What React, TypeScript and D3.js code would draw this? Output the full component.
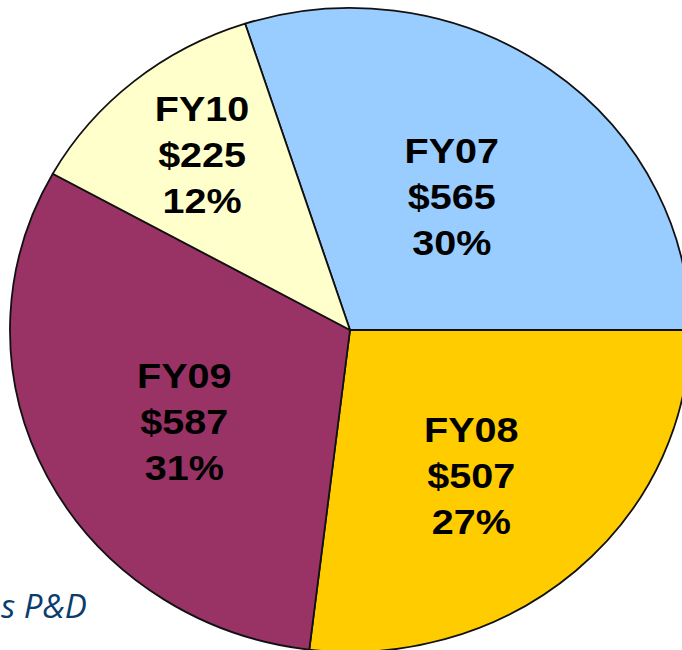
import React from "react";
import * as d3 from "d3";

const categories = ["FY07", "FY08", "FY09", "FY10"];
const values = [565, 507, 587, 225];
const percentLabels = ["30%", "27%", "31%", "12%"];
const colors = ["#99CCFF", "#FFCC00", "#993366", "#FFFFCC"];

// layout constants
const W = 682;
const H = 650;
const CX = 350;
const CY = 330;
const RX = 340;
const RY = 322;
const labelRadius = [163, 206, 199, 227];
const labelAngleShiftDeg = [2.6, 5.5, -6.6, -1.2];

export default function App() {
  const total = d3.sum(values);
  const start = Math.PI / 2 - (2 * Math.PI * values[0]) / total;
  const pie = d3
    .pie<number>()
    .sort(null)
    .value((d) => d)
    .startAngle(start)
    .endAngle(start + 2 * Math.PI);
  const arcs = pie(values);
  const arc = d3.arc<d3.PieArcDatum<number>>().innerRadius(0).outerRadius(RX);
  const sy = RY / RX;

  return (
    <svg
      width={W}
      height={H}
      style={{ position: "absolute", left: 0, top: 0, background: "#fff" }}
    >
      <g transform={`translate(${CX},${CY}) scale(1,${sy})`}>
        {arcs.map((a, i) => (
          <path
            key={categories[i]}
            d={arc(a) || ""}
            fill={colors[i]}
            stroke="#111"
            strokeWidth={1.8}
            strokeLinejoin="round"
            vectorEffect="non-scaling-stroke"
          />
        ))}
      </g>
      {arcs.map((a, i) => {
        const mid = (a.startAngle + a.endAngle) / 2 + (labelAngleShiftDeg[i] * Math.PI) / 180;
        const r = labelRadius[i];
        const x = CX + r * Math.sin(mid);
        const y = CY - r * Math.cos(mid) * sy;
        const lines = [categories[i], `$${values[i]}`, percentLabels[i]];
        const offs = [-46, 0, 46];
        return (
          <g key={"l" + i} transform={`translate(${x},${y}) scale(1.13,1)`}>
            {lines.map((t, j) => (
              <text
                key={j}
                x={0}
                y={offs[j]}
                textAnchor="middle"
                fontFamily="'Liberation Sans', Arial, sans-serif"
                fontWeight="bold"
                fontSize={35}
                fill="#000"
              >
                {t}
              </text>
            ))}
          </g>
        );
      })}
      <text
        x={1}
        y={618}
        textAnchor="start"
        fontFamily="'Open Sans', sans-serif"
        fontStyle="italic"
        fontSize={33}
        fill="#0B3C6E"
      >
        s P&amp;D
      </text>
    </svg>
  );
}
